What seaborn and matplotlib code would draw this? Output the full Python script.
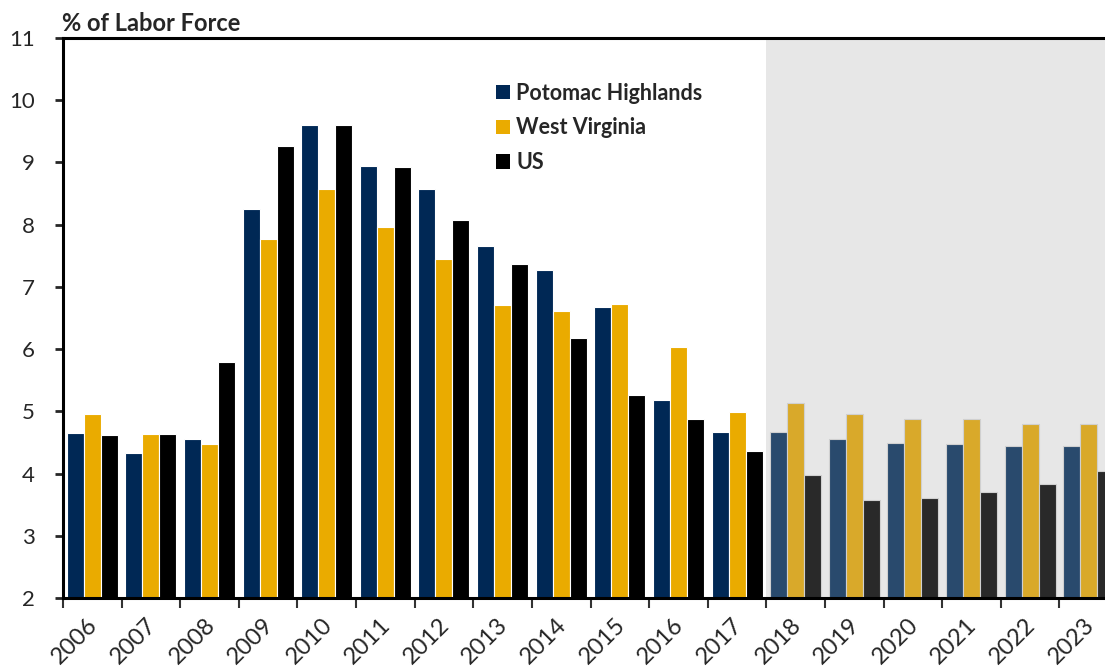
import numpy as np
import pandas as pd
import matplotlib.pyplot as plt
import seaborn as sb
from matplotlib.patches import Patch
from matplotlib.transforms import ScaledTranslation

years = ['2006', '2007', '2008', '2009', '2010', '2011', '2012', '2013', '2014',
         '2015', '2016', '2017', '2018', '2019', '2020', '2021', '2022', '2023']
potomac = [4.65, 4.33, 4.56, 8.25, 9.60, 8.94, 8.57, 7.65, 7.27,
           6.67, 5.18, 4.67, 4.66, 4.55, 4.49, 4.48, 4.45, 4.44]
west_virginia = [4.96, 4.64, 4.48, 7.77, 8.57, 7.97, 7.45, 6.71, 6.61,
                 6.73, 6.03, 4.99, 5.13, 4.95, 4.88, 4.88, 4.80, 4.79]
us = [4.62, 4.64, 5.79, 9.27, 9.60, 8.92, 8.07, 7.36, 6.18,
      5.27, 4.87, 4.36, 3.97, 3.58, 3.60, 3.71, 3.84, 4.04]
series = ['Potomac Highlands', 'West Virginia', 'US']
colors = ['#002855', '#eaab00', '#000000']
forecast_colors = ['#294a6d', '#d9a92a', '#292929']
first_forecast = '2018'

data = pd.DataFrame({
    'year': years * 3,
    'series': [s for s in series for _ in years],
    'rate': potomac + west_virginia + us,
})

sb.set_style('white')
plt.rcParams['font.family'] = ['Lato', 'DejaVu Sans']

fig = plt.figure(figsize=(11.05, 6.71), dpi=100)
ax = fig.add_axes([63 / 1105, 73 / 671, 1055 / 1105, 560 / 671])

start = years.index(first_forecast)
ax.axvspan(start - 0.5, len(years) - 0.5, color='#e7e7e7', lw=0, zorder=0)

sb.barplot(data=data, x='year', y='rate', hue='series', palette=colors, saturation=1,
           width=0.87, edgecolor='white', linewidth=0.8, legend=False, ax=ax)

# forecast years get muted colours
for cont, fc in zip(ax.containers, forecast_colors):
    for bar in cont.patches[start:]:
        bar.set_facecolor(fc)
        bar.set_edgecolor('#d0d0d0')

ax.set_xlim(-0.5, len(years) - 0.5)
ax.set_ylim(2, 11)
ax.set_yticks(range(2, 12))
ax.set_xlabel('')
ax.set_ylabel('')

for side in ['left', 'bottom', 'top', 'right']:
    ax.spines[side].set_color('black')
    ax.spines[side].set_linewidth(2.2)

ax.tick_params(axis='y', direction='out', length=6, width=2, labelsize=16, pad=14.5, left=True)
ax.set_xticks(np.arange(-0.5, len(years), 1), minor=True)
ax.tick_params(axis='x', which='minor', direction='out', length=7, width=1.5, color='#333333', bottom=True)
ax.tick_params(axis='x', which='major', length=0, labelsize=17, pad=17)
for lab in ax.get_xticklabels():
    lab.set_rotation(45)
    lab.set_ha('right')
    lab.set_va('center')
    lab.set_rotation_mode('anchor')
    lab.set_transform(lab.get_transform() + ScaledTranslation(2 / 100, 0, fig.dpi_scale_trans))

handles = [Patch(facecolor=c, edgecolor='none') for c in colors]
ax.legend(handles, series, loc='upper left', bbox_to_anchor=(0.4104, 0.92), frameon=False,
          handlelength=0.65, handleheight=0.65, handletextpad=0.3, labelspacing=0.63,
          borderpad=0, borderaxespad=0, prop={'weight': 'bold', 'size': 15.5})

fig.text(62 / 1105, 1 - 31 / 671, '% of Labor Force', fontsize=17, fontweight='bold',
         ha='left', va='baseline')

fig.savefig('out.png', dpi=100)
